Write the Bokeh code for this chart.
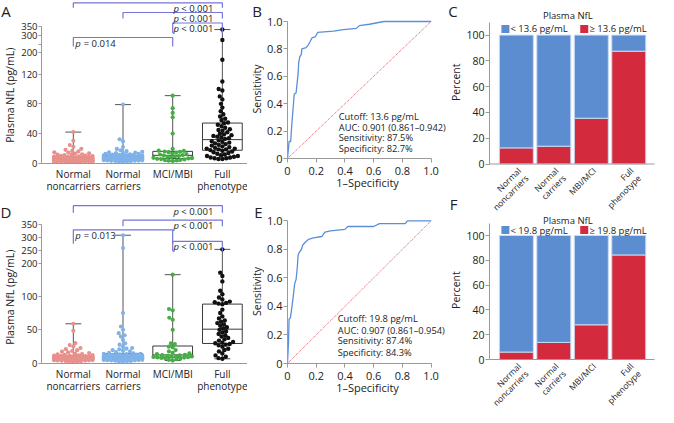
import numpy as np
from bokeh.plotting import figure
from bokeh.layouts import row, column
from bokeh.models import FixedTicker, Label, Range1d, ColumnDataSource, Span
from bokeh.core.properties import value
from bokeh.embed import file_html
from bokeh.resources import INLINE

FONT = "Open Sans"

# ---------------- data ----------------
box_groups = ["Normal\nnoncarriers", "Normal\ncarriers", "MCI/MBI", "Full\nphenotype"]
bar_groups = ["Normal\nnoncarriers", "Normal\ncarriers", "MBI/MCI", "Full\nphenotype"]

# Panel A: plasma NfL (pg/mL)
a_noncarriers = [42.1, 30.4, 24.8, 22.5, 19.7, 18.3, 16.9, 16.2, 15.0, 14.6, 13.7, 13.2, 12.4, 12.1, 11.5, 11.2,
                 10.6, 10.1, 9.9, 9.6, 9.3, 9.0, 8.8, 8.8, 8.4, 8.2, 8.0, 7.8, 7.8, 7.5, 7.3, 7.1, 7.0, 6.8,
                 6.8, 6.5, 6.4, 6.2, 6.1, 6.0, 5.9, 5.7, 5.7, 5.5, 5.4, 5.4, 5.2, 5.1, 5.0, 4.9, 4.8, 4.6,
                 4.6, 4.5, 4.3, 4.3, 4.1, 4.0, 3.9, 3.8, 3.7, 3.6, 3.5, 3.5, 3.3, 3.2, 3.1, 3.0, 2.9, 2.8,
                 2.7, 2.6, 2.6, 2.4, 2.3, 2.2, 2.1, 2.0, 1.8, 1.7]
a_carriers = [79.0, 32.5, 29.8, 22.1, 19.6, 17.8, 16.5, 15.6, 15.0, 14.5, 14.0, 13.6, 13.1, 12.8, 12.4, 12.0,
              11.7, 11.4, 11.2, 11.0, 10.8, 10.6, 10.4, 10.2, 10.0, 9.8, 9.7, 9.5, 9.3, 9.2, 9.0, 8.9, 8.7,
              8.6, 8.5, 8.3, 8.2, 8.1, 8.0, 7.9, 7.8, 7.7, 7.6, 7.4, 7.3, 7.2, 7.1, 7.0, 6.9, 6.8, 6.7, 6.6,
              6.5, 6.4, 6.3, 6.2, 6.1, 6.0, 5.9, 5.8, 5.7, 5.6, 5.4, 5.3, 5.2, 5.0, 4.9, 4.7, 4.6, 4.4, 4.3,
              4.1, 3.9, 3.8, 3.6, 3.4, 3.2, 3.0, 2.7, 2.4]
a_mci = [91.0, 74.2, 67.8, 62.0, 40.1, 19.5, 17.2, 16.8, 16.1, 15.7, 15.2, 14.6, 13.4, 12.7, 12.1, 11.3, 10.6,
         10.0, 9.4, 8.8, 8.1, 7.6, 7.2, 6.8, 6.3, 5.9, 5.4, 5.0, 4.6, 4.1, 3.7, 3.2]
a_full = [335, 275, 160, 110, 100, 98, 90, 86, 80, 75, 70, 66, 63, 60, 58, 55, 54, 52, 50, 48, 46, 45, 44, 42,
          40, 39, 38, 37, 36, 35, 34, 33, 31, 30, 29, 28, 27, 26, 25, 24, 23, 22, 21, 20, 20, 19, 19, 18, 17,
          16, 15, 14, 13, 12, 11, 10, 10, 9, 8, 8, 7, 7, 6, 6]

# Panel D
d_noncarriers = [59.0, 48.5, 30.2, 27.4, 25.1, 23.0, 21.3, 19.8, 18.6, 17.5, 16.4, 15.6, 14.7, 14.0, 13.5, 13.0,
                 12.6, 12.2, 11.8, 11.5, 11.2, 11.0, 10.8, 10.6, 10.5, 10.3, 10.2, 10.0, 9.9, 9.8, 9.6, 9.5,
                 9.4, 9.3, 9.2, 9.1, 9.0, 8.9, 8.8, 8.7, 8.6, 8.5, 8.4, 8.3, 8.2, 8.1, 8.0, 7.9, 7.8, 7.7,
                 7.6, 7.5, 7.4, 7.3, 7.2, 7.1, 7.0, 6.9, 6.8, 6.7, 6.6, 6.4, 6.3, 6.1, 6.0, 5.8, 5.6, 5.5,
                 5.3, 5.1, 4.9, 4.7, 4.5, 4.3, 4.1, 3.9, 3.6, 3.3, 3.0, 2.6]
d_carriers = [310, 260, 75, 55, 50, 45, 42, 40, 35, 30, 28, 25, 23, 22, 21, 20, 19, 18, 17, 16, 15,
              14.5, 14.2, 13.9, 13.5, 13.2, 12.9, 12.6, 12.3, 12.0, 11.8, 11.5, 11.3, 11.1, 10.9, 10.7, 10.5,
              10.3, 10.1, 9.9, 9.8, 9.6, 9.5, 9.4, 9.2, 9.1, 9.0, 8.9, 8.8, 8.6, 8.5, 8.4, 8.3, 8.2, 8.1,
              8.0, 7.9, 7.8, 7.7, 7.6, 7.5, 7.4, 7.3, 7.2, 7.1, 7.0, 6.8, 6.7, 6.5, 6.4, 6.2, 6.0, 5.9,
              5.7, 5.5, 5.3, 5.1, 4.9, 4.7, 4.5, 4.2, 3.9, 3.6, 3.2, 2.8]
d_mci = [132, 81, 79, 68, 65, 50, 30, 29, 25, 24, 20, 18, 16, 15, 14, 13, 12.4, 12.0, 11.2, 10.8, 10.4,
         10.1, 9.8, 9.4, 9.1, 8.8, 8.3, 7.9, 7.2, 6.3, 5.4, 4.4]
d_full = [255, 135, 130, 122, 108, 103, 98, 95, 92, 91, 90, 89, 88, 80, 75, 70, 67, 64, 62, 60, 58, 56, 54,
          52, 50, 48, 46, 44, 42, 40, 38, 36, 34, 32, 31, 30, 29, 28, 27, 25, 22, 20, 18, 15, 12, 10, 8, 7]

a_comparisons = [(1, 4, "< 0.001"), (2, 4, "< 0.001"), (3, 4, "< 0.001"), (1, 3, "= 0.014")]
d_comparisons = [(1, 4, "< 0.001"), (2, 4, "< 0.001"), (1, 3, "= 0.013"), (3, 4, "< 0.001")]

# Panel B / E: ROC curves (1-specificity, sensitivity)
b_fpr = [0, 0.004, 0.011, 0.022, 0.027, 0.033, 0.040, 0.047, 0.060, 0.067, 0.074, 0.078, 0.085, 0.096, 0.100,
         0.130, 0.145, 0.156, 0.170, 0.195, 0.210, 0.320, 0.390, 0.480, 0.500, 0.570, 0.670, 1.0]
b_tpr = [0, 0.045, 0.124, 0.124, 0.20, 0.29, 0.38, 0.47, 0.48, 0.55, 0.62, 0.70, 0.74, 0.76, 0.80,
         0.81, 0.83, 0.85, 0.88, 0.89, 0.92, 0.93, 0.94, 0.95, 0.97, 0.98, 1.0, 1.0]
b_stats = ["Cutoff: 13.6 pg/mL", "AUC: 0.901 (0.861\u20130.942)", "Sensitivity: 87.5%", "Specificity: 82.7%"]

e_fpr = [0, 0.007, 0.011, 0.020, 0.030, 0.040, 0.050, 0.060, 0.068, 0.074, 0.083, 0.097, 0.106, 0.124, 0.147,
         0.180, 0.240, 0.260, 0.300, 0.400, 0.420, 0.600, 0.640, 0.820, 0.835, 1.0]
e_tpr = [0, 0.15, 0.31, 0.32, 0.39, 0.47, 0.56, 0.59, 0.67, 0.76, 0.78, 0.80, 0.83, 0.85, 0.87,
         0.88, 0.89, 0.92, 0.93, 0.94, 0.96, 0.96, 0.98, 0.98, 1.0, 1.0]
e_stats = ["Cutoff: 19.8 pg/mL", "AUC: 0.907 (0.861\u20130.954)", "Sensitivity: 87.4%", "Specificity: 84.3%"]

# Panel C / F: percent of each group above the cutoff
c_cutoff = "13.6"
c_above = [12.5, 13.8, 35.5, 87.5]
f_cutoff = "19.8"
f_above = [6.0, 13.8, 28.0, 84.3]

# ---------------- style ----------------
AXIS = "#9a9a9a"
TXT = "#222222"
BRACKET = "#7676d6"
BOXC = "#3a3a3a"
GROUP_COLORS = ["#e8908c", "#7fb2e9", "#45ae45", "#111111"]
ROC_BLUE = "#5b8fd9"
DIAG_RED = "#e0505a"
BAR_BLUE = "#5b8dd0"
BAR_RED = "#d32a3e"
BAR_EDGE = "#c8dcf3"


def swarm_offsets(ys, d, half_w):
    ys = np.asarray(ys, float)
    order = np.argsort(ys, kind="stable")
    px, py = [], []
    out = np.zeros(len(ys))
    for i in order:
        y = ys[i]
        cands = [0.0]
        for xj, yj in zip(px, py):
            dy = y - yj
            if abs(dy) < d:
                dx = np.sqrt(d * d - dy * dy)
                cands += [xj + dx, xj - dx]
        cands = sorted(set(cands), key=lambda c: (abs(c), c))
        chosen = None
        for c in cands:
            if abs(c) > half_w:
                continue
            if all((c - xj) ** 2 + (y - yj) ** 2 >= d * d - 1e-6 for xj, yj in zip(px, py)):
                chosen = c
                break
        if chosen is None:
            grid = np.linspace(-half_w, half_w, 23)

            def cost(c):
                return sum(max(0.0, d * d - ((c - xj) ** 2 + (y - yj) ** 2)) for xj, yj in zip(px, py))
            chosen = float(min(grid, key=lambda c: (cost(c), abs(c))))
        px.append(chosen)
        py.append(y)
        out[i] = chosen
    return out


def style_axis(ax, tick_size):
    ax.axis_line_color = AXIS
    ax.major_tick_line_color = AXIS
    ax.minor_tick_line_color = None
    ax.major_tick_out = 3
    ax.major_tick_in = 0
    ax.major_label_text_font = FONT
    ax.major_label_text_font_size = tick_size
    ax.major_label_text_color = TXT
    ax.major_label_standoff = 1
    ax.axis_label_text_font = FONT
    ax.axis_label_text_font_size = "11px"
    ax.axis_label_text_font_style = "normal"
    ax.axis_label_text_color = TXT
    ax.axis_label_standoff = 0


def no_align(p):
    try:
        p.frame_align = False
    except Exception:
        pass


def main_fig(w, h, xr, yr, ml, mb):
    p = figure(width=w, height=h, x_range=xr, y_range=yr, output_backend="svg", toolbar_location=None,
               min_border_left=ml, min_border_right=0, min_border_top=0, min_border_bottom=mb)
    p.xgrid.visible = False
    p.ygrid.visible = False
    p.outline_line_color = None
    no_align(p)
    return p


def strip_fig(w, h, letters, title, tx, ty):
    # letters: list of (letter, x, y, baseline) in strip pixels (y measured upward)
    s = figure(width=w, height=h, x_range=Range1d(0, w), y_range=Range1d(0, h), output_backend="svg",
               toolbar_location=None, x_axis_location=None, y_axis_location=None, min_border=0)
    s.xgrid.visible = False
    s.ygrid.visible = False
    s.outline_line_color = None
    no_align(s)
    for letter, lx, ly, base in letters:
        s.text(x=[lx], y=[ly], text=[letter], text_font=value(FONT), text_font_size="15px", text_color=TXT,
               text_align="center", text_baseline=base)
    s.text(x=[tx], y=[ty], text=[title], angle=np.pi / 2, text_font=value(FONT), text_font_size="10.5px",
           text_color=TXT, text_align="center", text_baseline="middle")
    return s


def txt(p, x, y, t, size, **kw):
    p.text(x=x, y=y, text=t, text_font=value(FONT), text_font_size=size, text_color=TXT, **kw)


def box_panel(groups, xp, fp, ytick_vals, ytick_labels, comps, levels, drops, w, h, zero_from_top):
    ml = 20
    fw = w - ml
    ppu = 50.4
    x0 = 1 - 32.3 / ppu
    p = main_fig(w, h, Range1d(x0, x0 + fw / ppu), Range1d(-(h - zero_from_top), zero_from_top), ml, 0)

    def tf(v):
        return np.interp(v, xp, fp)

    for i, vals in enumerate(groups):
        x = i + 1
        v = np.asarray(vals, float)
        q1, med, q3 = np.percentile(v, [25, 50, 75])
        lo, hi = v.min(), v.max()
        hw, cap = 0.4, 0.16
        p.segment(x0=[x, x], y0=[tf(q3), tf(q1)], x1=[x, x], y1=[tf(hi), tf(lo)], line_color="#555555")
        p.segment(x0=[x - cap, x - cap], y0=[tf(hi), tf(lo)], x1=[x + cap, x + cap], y1=[tf(hi), tf(lo)],
                  line_color="#555555")
        p.quad(left=[x - hw], right=[x + hw], bottom=[tf(q1)], top=[tf(q3)], fill_color=None, line_color=BOXC)
        p.segment(x0=[x - hw], y0=[tf(med)], x1=[x + hw], y1=[tf(med)], line_color=BOXC)
        ys = tf(v)
        offs = swarm_offsets(ys, 4.0, 19.5) / ppu
        p.scatter(x + offs, ys, size=4.4 if i == 3 else 4.2, fill_color=GROUP_COLORS[i], line_color=None)

    for (a, b, ptxt), L, dl in zip(comps, levels, drops):
        p.line([a, a, b, b], [L - dl, L, L, L - dl], line_color=BRACKET, line_width=1.2)
        ty = L - 5.5
        kw = dict(y=ty, text_font=FONT, text_font_size="9.5px", text_color=TXT, text_baseline="middle")
        if ptxt.startswith("<"):
            p.add_layout(Label(x=b, text=ptxt, text_align="right", x_offset=-9, **kw))
            p.add_layout(Label(x=b, text="p", text_align="right", x_offset=-43.5, text_font_style="italic", **kw))
        else:
            p.add_layout(Label(x=a, text="p", text_align="left", x_offset=2, text_font_style="italic", **kw))
            p.add_layout(Label(x=a, text=ptxt, text_align="left", x_offset=10.3, **kw))

    # x baseline and two-line category labels below it
    p.add_layout(Span(location=0, dimension="width", line_color=AXIS, line_width=1))
    xs = [1, 2, 3, 4]
    line1 = [g.split("\n")[0] for g in box_groups]
    line2 = [g.split("\n")[1] if "\n" in g else "" for g in box_groups]
    txt(p, xs, [-10] * 4, line1, "10px", text_align="center", text_baseline="middle")
    txt(p, xs, [-22] * 4, line2, "10px", text_align="center", text_baseline="middle")

    style_axis(p.yaxis[0], "9.5px")
    yt = [round(float(tf(t)), 3) for t in ytick_vals]
    p.yaxis.ticker = FixedTicker(ticks=yt)
    p.yaxis.major_label_overrides = {k: lab for k, lab in zip(yt, ytick_labels)}
    p.yaxis.bounds = (0, round(float(tf(350)), 3))
    p.xaxis.visible = False
    return p


def roc_panel(fpr, tpr, stats, tx, tys, w, h, mb, one_px):
    ml = 21
    fw = w - ml
    fh = h - mb
    xppu = 145.4
    p = main_fig(w, h, Range1d(0, fw / xppu), Range1d(0, fh / one_px), ml, mb)
    p.line([0, 1], [0, 1], line_color=DIAG_RED, line_dash="1 1", line_width=1)
    p.line(fpr, tpr, line_color=ROC_BLUE, line_width=1.3)
    ticks = [0, 0.2, 0.4, 0.6, 0.8, 1.0]
    labs = {t: ("0" if t == 0 else f"{t:.1f}") for t in ticks}
    for ax in (p.xaxis[0], p.yaxis[0]):
        style_axis(ax, "11px")
        ax.ticker = FixedTicker(ticks=ticks)
        ax.major_label_overrides = labs
        ax.bounds = (0, 1)
        ax.major_tick_out = 4
    p.xaxis.axis_label = "1\u2013Specificity"
    p.xaxis.major_label_standoff = 4
    p.xaxis.axis_label_standoff = -3
    txt(p, [tx] * len(stats), tys, stats, "9.3px", text_baseline="middle", text_align="left")
    return p


def bar_panel(above, cutoff, w, h, zero_from_top, yppu, legend_y, title_y):
    ml = 25
    fw = w - ml
    ppx = 37.7
    x0 = 1 - 27 / ppx
    p = main_fig(w, h, Range1d(x0, x0 + fw / ppx),
                 Range1d(-(h - zero_from_top) / yppu, zero_from_top / yppu), ml, 0)
    xs = [1, 2, 3, 4]
    src = ColumnDataSource(dict(x=xs, above=above, total=[100] * 4))
    p.vbar(x="x", top="above", bottom=0, width=0.907, source=src, fill_color=BAR_RED,
           line_color=BAR_EDGE, line_width=1)
    p.vbar(x="x", top="total", bottom="above", width=0.907, source=src, fill_color=BAR_BLUE,
           line_color=BAR_EDGE, line_width=1)
    style_axis(p.yaxis[0], "10.5px")
    p.yaxis.ticker = FixedTicker(ticks=[0, 20, 40, 60, 80, 100])
    p.yaxis.bounds = (0, 110)
    p.yaxis.major_tick_out = 4
    p.xaxis.visible = False
    # x baseline (axis line)
    p.segment(x0=[x0], y0=[0], x1=[x0 + 166 / ppx], y1=[0], line_color=AXIS, line_width=1)

    # rotated two-line category labels (right-aligned, 45 degrees)
    c45 = np.cos(np.pi / 4)
    lh = 10.5
    line1 = [g.split("\n")[0] for g in bar_groups]
    line2 = [g.split("\n")[1] if "\n" in g else "" for g in bar_groups]
    y1 = -1.0 / yppu
    txt(p, [x - 1.0 / ppx for x in xs], [y1] * 4, line1, "8.5px", angle=np.pi / 4, text_align="right",
        text_baseline="top")
    txt(p, [x + (lh * c45 - 1.0) / ppx for x in xs], [y1 - lh * c45 / yppu] * 4, line2, "8.5px",
        angle=np.pi / 4, text_align="right", text_baseline="top")

    # legend: title + two swatches
    def fx(px):
        return x0 + px / ppx
    p.scatter([fx(16), fx(95.3)], [legend_y] * 2, marker="square", size=8, fill_color=[BAR_BLUE, BAR_RED],
              line_color=None)
    txt(p, [fx(21), fx(100.5)], [legend_y] * 2, ["< " + cutoff + " pg/mL", "\u2265 " + cutoff + " pg/mL"],
        "9.5px", text_align="left", text_baseline="middle")
    txt(p, [fx(78.8)], [title_y], ["Plasma NfL"], "9.5px", text_align="center", text_baseline="middle")
    return p


# display mapping for the broken y axis (value -> frame px above zero)
a_xp, a_fp = [0, 128, 160, 360], [0, 95.44, 103.68, 138.28]
d_xp, d_fp = [0, 142, 190, 360], [0, 95.57, 97.43, 141.12]

H1, H2 = 201, 206      # rows holding A/B and D/E
HC, HF = 214, 193      # column holding C and F

pA = box_panel([a_noncarriers, a_carriers, a_mci, a_full], a_xp, a_fp,
               [0, 40, 80, 120, 200, 250, 300, 350], ["0", "40", "80", "120", "200", "", "300", "350"],
               a_comparisons, [160.7, 151.0, 140.5, 126.0], [5, 6, 10, 9], 229, H1, 163)
pD = box_panel([d_noncarriers, d_carriers, d_mci, d_full], d_xp, d_fp,
               [0, 50, 100, 200, 250, 300, 350], ["0", "50", "100", "200", "250", "300", "350"],
               d_comparisons, [157.8, 143.3, 133.7, 122.2], [7, 6, 14, 10], 229, H2, 162)
pB = roc_panel(b_fpr, b_tpr, b_stats, 0.357, [0.303, 0.228, 0.153, 0.071], 183, H1, 43, 137.0)
pE = roc_panel(e_fpr, e_tpr, e_stats, 0.35, [0.314, 0.232, 0.158, 0.077], 183, H2, 44, 142.7)
pC = bar_panel(c_above, c_cutoff, 195, HC, 163.5, 1.289, 104.8, 114.9)
pF = bar_panel(f_above, f_cutoff, 195, HF, 145.0, 1.24, 104.4, 112.5)

sA = strip_fig(18, H1, [("A", 5.5, H1 - 0.5, "top")], "Plasma NfL (pg/mL)", 9.5, 106.2)
sD = strip_fig(18, H2, [("D", 5.5, H2 - 0.5, "top")], "Plasma NfL (pg/mL)", 9.5, 110.2)
sB = strip_fig(17, H1, [("B", 9.7, H1 - 0.5, "top")], "Sensitivity", 9.0, 112.5)
sE = strip_fig(17, H2, [("E", 11.0, H2 - 0.5, "top")], "Sensitivity", 9.0, 116.0)
sC = strip_fig(16, HC, [("C", 5.5, HC - 0.5, "top"), ("F", 6.0, 0.5, "bottom")], "Percent", 8.0, 132.2)
sF = strip_fig(16, HF, [], "Percent", 8.0, 117.4)

left = column(row(sA, pA, sB, pB, spacing=0), row(sD, pD, sE, pE, spacing=0), spacing=0)
right = column(row(sC, pC, spacing=0), row(sF, pF, spacing=0), spacing=0)
layout = row(left, right, spacing=0)
open("out.html", "w").write(file_html(layout, INLINE))
